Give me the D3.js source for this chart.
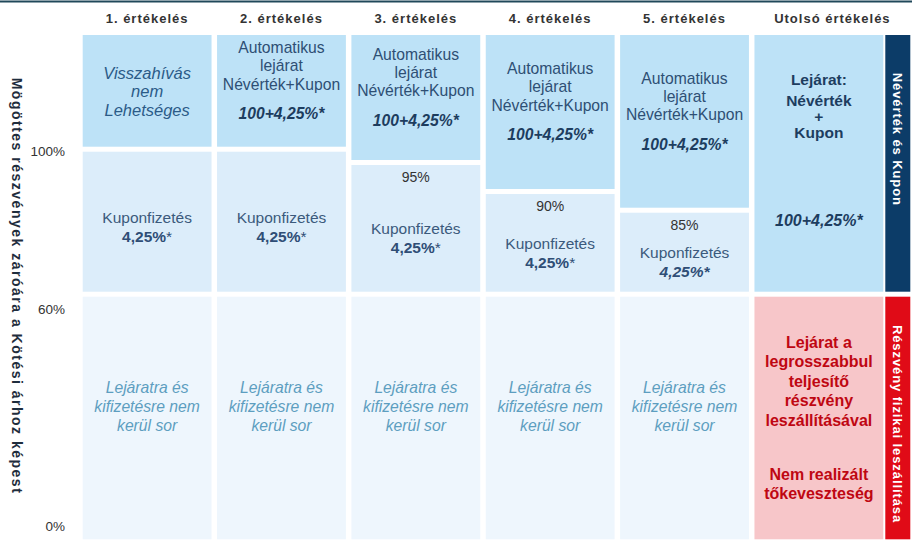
<!DOCTYPE html>
<html>
<head>
<meta charset="utf-8">
<script src="https://cdn.jsdelivr.net/npm/d3@7"></script>
<style>
  html, body { margin: 0; padding: 0; background: #ffffff; }
  svg { display: block; font-family: "Liberation Sans", Arial, sans-serif; }
</style>
</head>
<body>
<svg id="chart" width="915" height="544"></svg>
<script>
// ---- data ----
const categories = ["1. értékelés", "2. értékelés", "3. értékelés", "4. értékelés", "5. értékelés", "Utolsó értékelés"];
const autocallLevels = [100, 100, 95, 90, 85, 60];
const levelLabels = ["", "", "95%", "90%", "85%", ""];
const yTicks = [100, 60, 0];
const tickLabels = ["100%", "60%", "0%"];
const couponBarrier = 60;
const couponText = ["Kuponfizetés", "4,25%", "*"];
const autocallText = ["Automatikus", "lejárat", "Névérték+Kupon"];
const payoffText = "100+4,25%*";
const noCallText = ["Visszahívás", "nem", "Lehetséges"];
const noPayText = ["Lejáratra és", "kifizetésre nem", "kerül sor"];
const finalTopText = ["Lejárat:", "Névérték", "+", "Kupon"];
const finalBottomText = ["Lejárat a", "legrosszabbul", "teljesítő", "részvény", "leszállításával"];
const lossText = ["Nem realizált", "tőkeveszteség"];
const yAxisTitle = "Mögöttes részvények záróára a Kötési árhoz képest";
const sideLabels = ["Névérték és Kupon", "Részvény fizikai leszállítása"];

// ---- scales ----
const svg = d3.select("#chart");
const gap = 2.5;
const x = d3.scaleBand().domain(categories).range([82.7, 883.3]).paddingInner(0.041).paddingOuter(0);
const y = d3.scaleLinear()
  .domain([0, 60, 85, 90, 95, 100, 140])
  .range([539.3, 294.2, 210.2, 191.5, 162.5, 149.2, 35]);
const yTop = y(140), yBottom = y(0);

const C = {
  top: "#bde2f7", coupon: "#dcedfa", none: "#eef6fd", lossBg: "#f7c6c9",
  navy: "#0c3c68", red: "#e00b17", line: "#20485a",
  txtDark: "#1d3d5f", txt: "#2e4f74", txtItal: "#2b5b88", txtLight: "#5d9ec0",
  lossTxt: "#bf0712", head: "#333333"
};

svg.append("rect").attr("width", 915).attr("height", 544).attr("fill", "#fff");
svg.append("line").attr("x1", 0).attr("x2", 912).attr("y1", 1.5).attr("y2", 1.5)
  .attr("stroke", C.line).attr("stroke-width", 2);

function lines(g, cx, ys, arr, style) {
  arr.forEach((t, i) => {
    g.append("text").attr("x", cx).attr("y", ys[i]).attr("dy", "0.35em")
      .attr("text-anchor", "middle")
      .attr("font-size", style.size || 15.7)
      .attr("font-weight", style.weight || "normal")
      .attr("font-style", style.italic ? "italic" : "normal")
      .attr("fill", style.color)
      .text(t);
  });
}

const cells = svg.append("g");
const n = categories.length;
const barW = 25;
const barX = x.range()[1] + 2;

categories.forEach((cat, i) => {
  const x0 = x(cat), w = x.bandwidth(), cx = x0 + w / 2;
  const L = autocallLevels[i];
  const last = i === n - 1;
  // top cell: autocall region
  const t0 = yTop, t1 = y(L) - gap;
  cells.append("rect").attr("x", x0).attr("y", t0).attr("width", w).attr("height", t1 - t0).attr("fill", C.top);
  const tc = (t0 + t1) / 2;
  if (i === 0) {
    lines(cells, cx, [tc - 17.5, tc + 0.5, tc + 19.5], noCallText, { italic: true, size: 16.5, color: C.txtItal });
  } else if (!last) {
    lines(cells, cx, [tc - 43, tc - 25, tc - 6.5], autocallText, { color: C.txt });
    lines(cells, cx, [tc + 23], [payoffText], { italic: true, weight: "bold", color: C.txtDark });
  } else {
    lines(cells, cx, [tc - 84, tc - 63, tc - 46.5, tc - 30.5], finalTopText, { weight: "bold", size: 15.5, color: C.txtDark });
    lines(cells, cx, [tc + 57], [payoffText], { italic: true, weight: "bold", size: 16, color: C.txtDark });
  }
  // coupon cell
  if (L > couponBarrier) {
    const c0 = y(L) + gap, c1 = y(couponBarrier) - gap;
    cells.append("rect").attr("x", x0).attr("y", c0).attr("width", w).attr("height", c1 - c0).attr("fill", C.coupon);
    let mid;
    if (levelLabels[i]) {
      lines(cells, cx, [c0 + 12], [levelLabels[i]], { size: 14, color: "#333" });
      mid = (c0 + 20 + c1) / 2;
    } else {
      mid = (c0 + c1) / 2 + 5;
    }
    lines(cells, cx, [mid - 9.5], [couponText[0]], { size: 15.5, color: "#3b5a7c" });
    const t = cells.append("text").attr("x", cx).attr("y", mid + 9.5).attr("dy", "0.35em")
      .attr("text-anchor", "middle").attr("font-size", 15.5).attr("fill", "#2f4e76");
    t.append("tspan").attr("font-weight", "bold").attr("font-style", i === 4 ? "italic" : "normal").text(couponText[1]);
    t.append("tspan").attr("font-style", i === 4 ? "italic" : "normal").attr("font-weight", i === 4 ? "bold" : "normal").text(couponText[2]);
  }
  // bottom cell
  const b0 = y(couponBarrier) + gap, b1 = yBottom;
  cells.append("rect").attr("x", x0).attr("y", b0).attr("width", w).attr("height", b1 - b0)
    .attr("fill", last ? C.lossBg : C.none);
  const bc = (b0 + b1) / 2;
  if (!last) {
    lines(cells, cx, [bc - 30, bc - 11, bc + 8], noPayText, { italic: true, color: C.txtLight });
  } else {
    lines(cells, cx, finalBottomText.map((d, k) => bc - 76 + k * 19.5), finalBottomText, { weight: "bold", size: 16, color: C.lossTxt });
    lines(cells, cx, [bc + 56, bc + 75.5], lossText, { weight: "bold", size: 16, color: C.lossTxt });
  }
  // header
  const hx = last ? (x0 + barX + barW) / 2 : cx;
  svg.append("text").attr("x", hx).attr("y", 18).attr("dy", "0.35em").attr("text-anchor", "middle")
    .attr("font-size", 13).attr("font-weight", "bold").attr("letter-spacing", 1).attr("fill", C.head)
    .text(cat);
});

// side bars
const sideBands = [[yTop, y(couponBarrier) - gap, C.navy, -24], [y(couponBarrier) + gap, yBottom, C.red, 6]];
sideBands.forEach((b, k) => {
  svg.append("rect").attr("x", barX).attr("y", b[0]).attr("width", barW).attr("height", b[1] - b[0]).attr("fill", b[2]);
  svg.append("text").attr("transform", `translate(${barX + barW / 2},${(b[0] + b[1]) / 2 + b[3]}) rotate(90)`)
    .attr("dy", "0.35em").attr("text-anchor", "middle").attr("font-size", 13).attr("font-weight", "bold")
    .attr("letter-spacing", 0.9).attr("fill", "#fff").text(sideLabels[k]);
});

// y tick labels
const tickShift = v => v === 100 ? 2 : (v === 60 ? 15 : -13);
yTicks.forEach((v, k) => {
  svg.append("text").attr("x", 65).attr("y", y(v) + tickShift(v)).attr("dy", "0.35em")
    .attr("text-anchor", "end").attr("font-size", 13.5).attr("fill", "#333").text(tickLabels[k]);
});

// y axis title
svg.append("text").attr("transform", `translate(17,286) rotate(90)`)
  .attr("dy", "0.35em").attr("text-anchor", "middle").attr("font-size", 14).attr("font-weight", "bold")
  .attr("letter-spacing", 1.5).attr("fill", "#1f2d3d").text(yAxisTitle);
</script>
</body>
</html>
